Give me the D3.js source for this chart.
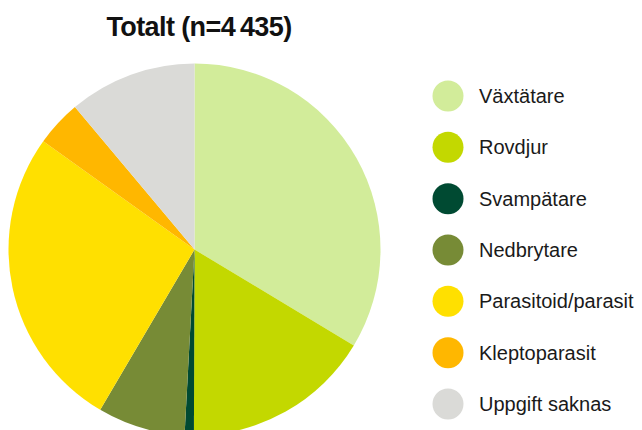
<!DOCTYPE html>
<html>
<head>
<meta charset="utf-8">
<script src="https://cdn.jsdelivr.net/npm/d3@7"></script>
<style>
  body { margin: 0; background: #fff; }
  svg { display: block; font-family: "Liberation Sans", Arial, sans-serif; }
</style>
</head>
<body>
<svg id="chart" width="642" height="430" viewBox="0 0 642 430"></svg>
<script>
// Share of species per feeding group (%)
const categories = ["Växtätare", "Rovdjur", "Svampätare", "Nedbrytare", "Parasitoid/parasit", "Kleptoparasit", "Uppgift saknas"];
const shares = [33.6, 16.4, 0.8, 7.6, 26.4, 4.0, 11.1];
const colors = ["#d2ec9a", "#c3d800", "#004a32", "#778b36", "#ffe000", "#ffb700", "#dadad7"];
const title = "Totalt (n=4\u2009435)";

const svg = d3.select("#chart");
const width = 642, height = 430;

const data = categories.map((c, i) => ({ name: c, value: shares[i] }));

const color = d3.scaleOrdinal()
    .domain(categories)
    .range(colors);

// title
svg.append("text")
    .attr("x", 199)
    .attr("y", 36)
    .attr("text-anchor", "middle")
    .style("font-size", "27px")
    .style("font-weight", "bold")
    .style("letter-spacing", "-0.6px")
    .attr("fill", "#111")
    .text(title);

// pie (runs off the bottom edge like the original)
const cx = 194.5, cy = 249.5, radius = 186;

const pie = d3.pie()
    .value(d => d.value)
    .sort(null);

const arc = d3.arc()
    .innerRadius(0)
    .outerRadius(radius);

const pieGroup = svg.append("g")
    .attr("transform", `translate(${cx},${cy})`);

pieGroup.selectAll("path")
    .data(pie(data))
    .enter()
    .append("path")
    .attr("d", arc)
    .attr("fill", d => color(d.data.name));

// legend
const legendY = d3.scalePoint()
    .domain(categories)
    .range([96, 404]);

const legend = svg.append("g")
    .selectAll("g")
    .data(categories)
    .enter()
    .append("g")
    .attr("transform", d => `translate(448,${legendY(d)})`);

legend.append("circle")
    .attr("r", 15.5)
    .attr("fill", d => color(d));

legend.append("text")
    .attr("x", 31)
    .attr("dy", "0.35em")
    .style("font-size", "20px")
    .attr("fill", "#1a1a1a")
    .text(d => d);
</script>
</body>
</html>
